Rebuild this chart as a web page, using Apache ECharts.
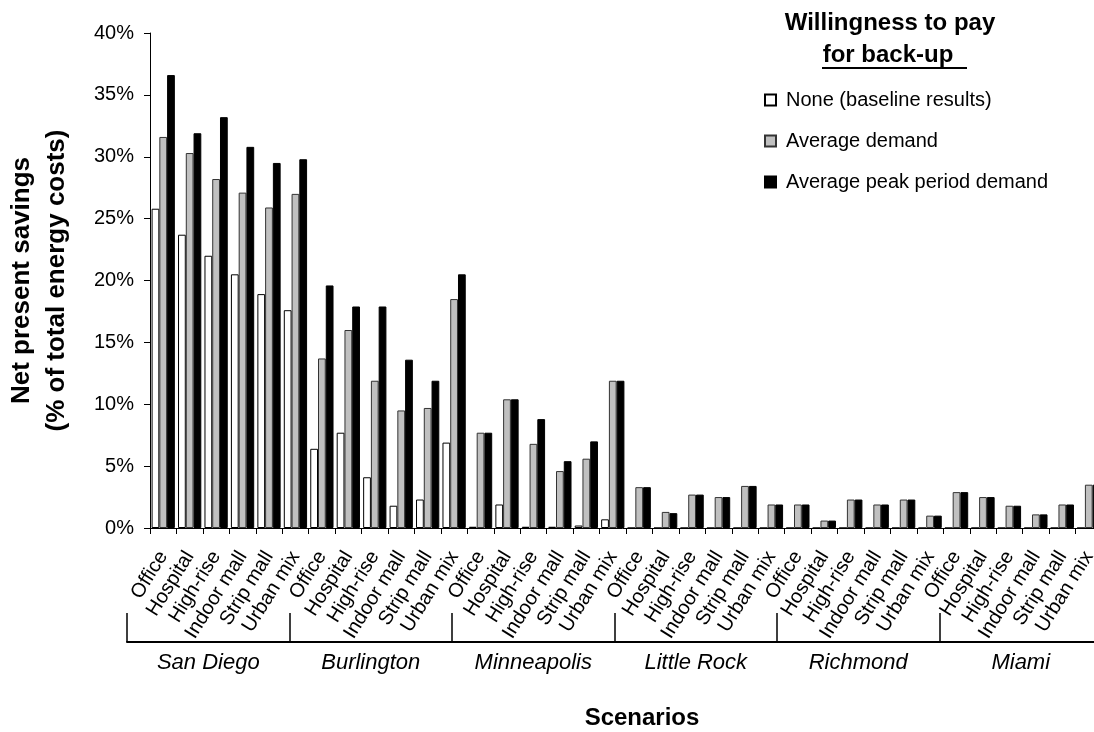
<!DOCTYPE html>
<html>
<head>
<meta charset="utf-8">
<title>Net present savings by scenario</title>
<script src="https://cdn.jsdelivr.net/npm/echarts@6/dist/echarts.min.js"></script>
<style>
  html, body { margin: 0; padding: 0; background: #fff; }
  #chart { width: 1094px; height: 732px; }
</style>
</head>
<body>
<div id="chart"></div>
<script>
// Cities (outer grouping) and building types (inner categories)
const cities = ['San Diego', 'Burlington', 'Minneapolis', 'Little Rock', 'Richmond', 'Miami'];
const buildings = ['Office', 'Hospital', 'High-rise', 'Indoor mall', 'Strip mall', 'Urban mix'];

// Net present savings, % of total energy costs, one value per city x building
const noneBaseline = [
  25.8, 23.7, 22.0, 20.5, 18.9, 17.6,
  6.4, 7.7, 4.1, 1.8, 2.3, 6.9,
  0.1, 1.9, 0.1, 0.1, 0.2, 0.7,
  0, 0, 0, 0, 0, 0,
  0, 0, 0, 0, 0, 0,
  0, 0, 0, 0, 0, 0
];
const averageDemand = [
  31.6, 30.3, 28.2, 27.1, 25.9, 27.0,
  13.7, 16.0, 11.9, 9.5, 9.7, 18.5,
  7.7, 10.4, 6.8, 4.6, 5.6, 11.9,
  3.3, 1.3, 2.7, 2.5, 3.4, 1.9,
  1.9, 0.6, 2.3, 1.9, 2.3, 1.0,
  2.9, 2.5, 1.8, 1.1, 1.9, 3.5
];
const averagePeakDemand = [
  36.6, 31.9, 33.2, 30.8, 29.5, 29.8,
  19.6, 17.9, 17.9, 13.6, 11.9, 20.5,
  7.7, 10.4, 8.8, 5.4, 7.0, 11.9,
  3.3, 1.2, 2.7, 2.5, 3.4, 1.9,
  1.9, 0.6, 2.3, 1.9, 2.3, 1.0,
  2.9, 2.5, 1.8, 1.1, 1.9, 3.5
];

const seriesNames = ['None (baseline results)', 'Average demand', 'Average peak period demand'];
const yTicks = { min: 0, max: 40, step: 5 };

// Inner category axis: every building type repeated for each city
const categories = [];
cities.forEach(() => buildings.forEach(b => categories.push(b)));

const FONT = "'Liberation Sans', Arial, sans-serif";

const chart = echarts.init(document.getElementById('chart'), null, { renderer: 'canvas' });

chart.setOption({
  animation: false,
  backgroundColor: '#fff',
  textStyle: { fontFamily: FONT, color: '#000' },
  grid: [
    // bar plot
    { left: 150, right: -8, top: 33, bottom: 204, containLabel: false, outerBoundsMode: 'none' },
    // city bracket row under the building labels
    { left: 127, right: -8, top: 600, bottom: 90, containLabel: false, outerBoundsMode: 'none' }
  ],
  legend: {
    orient: 'vertical',
    left: 764,
    top: 90,
    padding: 0,
    itemWidth: 11,
    itemHeight: 11,
    itemGap: 21,
    icon: 'rect',
    selectedMode: false,
    data: seriesNames,
    textStyle: { fontFamily: FONT, fontSize: 20, color: '#000', padding: [0, 0, 0, 5] }
  },
  xAxis: [
    {
      type: 'category',
      gridIndex: 0,
      data: categories,
      boundaryGap: true,
      axisLine: { lineStyle: { color: '#000', width: 1 } },
      axisTick: { show: true, interval: 0, length: 6, lineStyle: { color: '#000' } },
      axisLabel: {
        interval: 0,
        rotate: 58,
        margin: 25,
        fontSize: 20,
        fontFamily: FONT,
        color: '#000'
      },
      name: 'Scenarios',
      nameLocation: 'middle',
      nameGap: 178,
      nameTextStyle: {
        fontSize: 24,
        fontWeight: 'bold',
        fontFamily: FONT,
        color: '#000',
        padding: [0, 0, 0, 32]
      },
      splitLine: { show: false }
    },
    {
      type: 'category',
      gridIndex: 1,
      data: cities,
      boundaryGap: true,
      axisLine: { show: true, onZero: false, lineStyle: { color: '#000', width: 2 } },
      axisTick: { show: true, interval: 0, inside: true, length: 29, lineStyle: { color: '#000', width: 1.5 } },
      axisLabel: {
        interval: 0,
        margin: 10,
        fontSize: 22,
        fontStyle: 'italic',
        fontFamily: FONT,
        color: '#000'
      },
      splitLine: { show: false }
    }
  ],
  yAxis: [
    {
      type: 'value',
      gridIndex: 0,
      min: yTicks.min,
      max: yTicks.max,
      interval: yTicks.step,
      axisLine: { show: true, lineStyle: { color: '#000', width: 1 } },
      axisTick: { show: true, length: 6, lineStyle: { color: '#000' } },
      axisLabel: {
        formatter: '{value}%',
        margin: 16,
        fontSize: 20,
        fontFamily: FONT,
        color: '#000'
      },
      splitLine: { show: false },
      name: 'Net present savings\n(% of total energy costs)',
      nameLocation: 'middle',
      nameRotate: 90,
      nameGap: 76,
      nameTextStyle: {
        fontSize: 26,
        fontWeight: 'bold',
        fontFamily: FONT,
        color: '#000',
        lineHeight: 35
      }
    },
    { type: 'value', gridIndex: 1, min: 0, max: 1, show: false }
  ],
  series: [
    {
      name: seriesNames[0],
      type: 'bar',
      xAxisIndex: 0,
      yAxisIndex: 0,
      data: noneBaseline,
      barGap: '0%',
      barCategoryGap: '12%',
      itemStyle: { color: '#ffffff', borderColor: '#000', borderWidth: 1 }
    },
    {
      name: seriesNames[1],
      type: 'bar',
      xAxisIndex: 0,
      yAxisIndex: 0,
      data: averageDemand,
      barGap: '0%',
      barCategoryGap: '12%',
      itemStyle: { color: '#c0c0c0', borderColor: '#333', borderWidth: 1 }
    },
    {
      name: seriesNames[2],
      type: 'bar',
      xAxisIndex: 0,
      yAxisIndex: 0,
      data: averagePeakDemand,
      barGap: '0%',
      barCategoryGap: '12%',
      itemStyle: { color: '#000000', borderColor: '#000', borderWidth: 1 }
    }
  ],
  graphic: [
    {
      type: 'text',
      x: 890, y: 23,
      style: {
        text: 'Willingness to pay',
        align: 'center', verticalAlign: 'middle',
        font: "bold 24px 'Liberation Sans', Arial, sans-serif",
        fill: '#000'
      }
    },
    {
      type: 'text',
      x: 888, y: 55,
      style: {
        text: 'for back-up',
        align: 'center', verticalAlign: 'middle',
        font: "bold 24px 'Liberation Sans', Arial, sans-serif",
        fill: '#000'
      }
    },
    {
      type: 'line',
      shape: { x1: 822, y1: 68, x2: 967, y2: 68 },
      style: { stroke: '#000', lineWidth: 2 }
    }
  ]
});
</script>
</body>
</html>
